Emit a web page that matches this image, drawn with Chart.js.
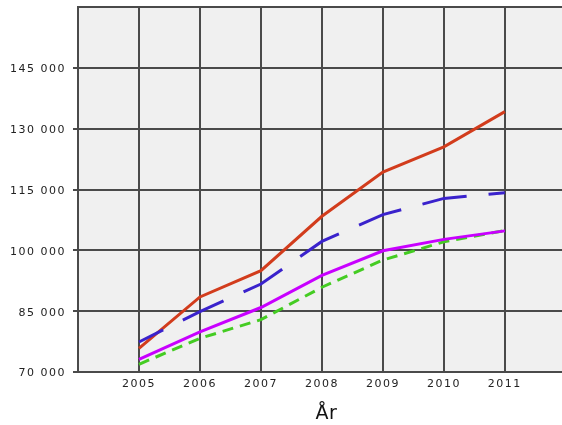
<!DOCTYPE html>
<html>
<head>
<meta charset="utf-8">
<script src="https://cdn.jsdelivr.net/npm/chart.js@4"></script>
<style>
html,body{margin:0;padding:0;background:#fff;overflow:hidden;width:562px;height:425px;}
canvas{display:block;}
</style>
</head>
<body>
<canvas id="c" width="575" height="425"></canvas>
<script>
const years = [2005, 2006, 2007, 2008, 2009, 2010, 2011];
const seriesRed = [75800, 88500, 95000, 108400, 119300, 125500, 134200];
const seriesBlue = [77400, 84900, 91700, 102200, 108800, 112800, 114200];
const seriesMagenta = [73100, 79900, 85900, 93800, 99900, 102700, 104800];
const seriesGreen = [71900, 78300, 82900, 90900, 97600, 102100, 104900];
const xTicks = [2004, 2005, 2006, 2007, 2008, 2009, 2010, 2011];
const yTicks = [70000, 85000, 100000, 115000, 130000, 145000, 160000];
const xTitle = 'År';

function pts(vals){ return years.map((y,i)=>({x:y, y:vals[i]})); }
function fmt(v){ return String(v).replace(/\B(?=(\d{3})+(?!\d))/g, ' '); }

const spacing = {
  id:'spacing',
  beforeUpdate(chart){ chart.ctx.letterSpacing = '1.5px'; },
  afterUpdate(chart){
    const xs = chart.scales.x;
    if (xs && !xs._titleWrapped) {
      const orig = xs.drawTitle.bind(xs);
      xs.drawTitle = function(){
        const ctx = this.ctx;
        const prev = ctx.letterSpacing;
        ctx.letterSpacing = '0.5px';
        orig();
        ctx.letterSpacing = prev;
      };
      xs._titleWrapped = true;
    }
  },
  beforeDraw(chart){
    const ctx = chart.ctx;
    ctx.letterSpacing = '1.5px';
    const a = chart.chartArea;
    ctx.save();
    ctx.fillStyle = '#f0f0f0';
    ctx.fillRect(a.left, a.top, a.right - a.left, a.bottom - a.top);
    ctx.restore();
  }
};

const gridColor = '#4a4a4a';
new Chart(document.getElementById('c'), {
  type: 'line',
  data: {
    datasets: [
      {data: pts(seriesBlue), borderColor:'#3a22cc', borderWidth:3, borderDash:[45,22], borderDashOffset:18},
      {data: pts(seriesRed), borderColor:'#d23c1c', borderWidth:3},
      {data: pts(seriesMagenta), borderColor:'#c800ff', borderWidth:3},
      {data: pts(seriesGreen), borderColor:'#44cc22', borderWidth:3, borderDash:[11,7]}
    ]
  },
  options: {
    responsive:false,
    animation:false,
    devicePixelRatio:1,
    layout:{padding:{top:7, left:0, right:0, bottom:0}},
    elements:{point:{radius:0}, line:{tension:0, borderCapStyle:'butt'}},
    plugins:{legend:{display:false}, tooltip:{enabled:false}},
    scales:{
      x:{
        type:'linear', min:2004, max:2012.15,
        afterBuildTicks(s){ s.ticks = xTicks.map(v=>({value:v})); },
        afterFit(s){ s.height = 53; },
        border:{display:true, color:gridColor, width:2},
        grid:{color:gridColor, lineWidth:2, drawTicks:false},
        ticks:{padding:6, color:'#222', font:{family:'DejaVu Sans', size:11},
               callback:(v)=> v===2004 ? '' : String(v), maxRotation:0, autoSkip:false},
        title:{display:true, text:xTitle, color:'#111', font:{family:'DejaVu Sans', size:19}, padding:{top:0,bottom:0}}
      },
      y:{
        min:70000, max:160000,
        afterBuildTicks(s){ s.ticks = yTicks.map(v=>({value:v})); },
        afterFit(s){ s.width = 78; s.paddingTop = 0; s.paddingBottom = 0; },
        border:{display:true, color:gridColor, width:2},
        grid:{color:gridColor, lineWidth:2, tickLength:5,
              tickColor:(c)=> (c.tick && c.tick.value===160000) ? 'rgba(0,0,0,0)' : gridColor},
        ticks:{padding:7, labelOffset:1.5, color:'#222', font:{family:'DejaVu Sans', size:11},
               callback:(v)=> v===160000 ? '' : fmt(v)}
      }
    }
  },
  plugins:[spacing]
});
</script>
</body>
</html>
